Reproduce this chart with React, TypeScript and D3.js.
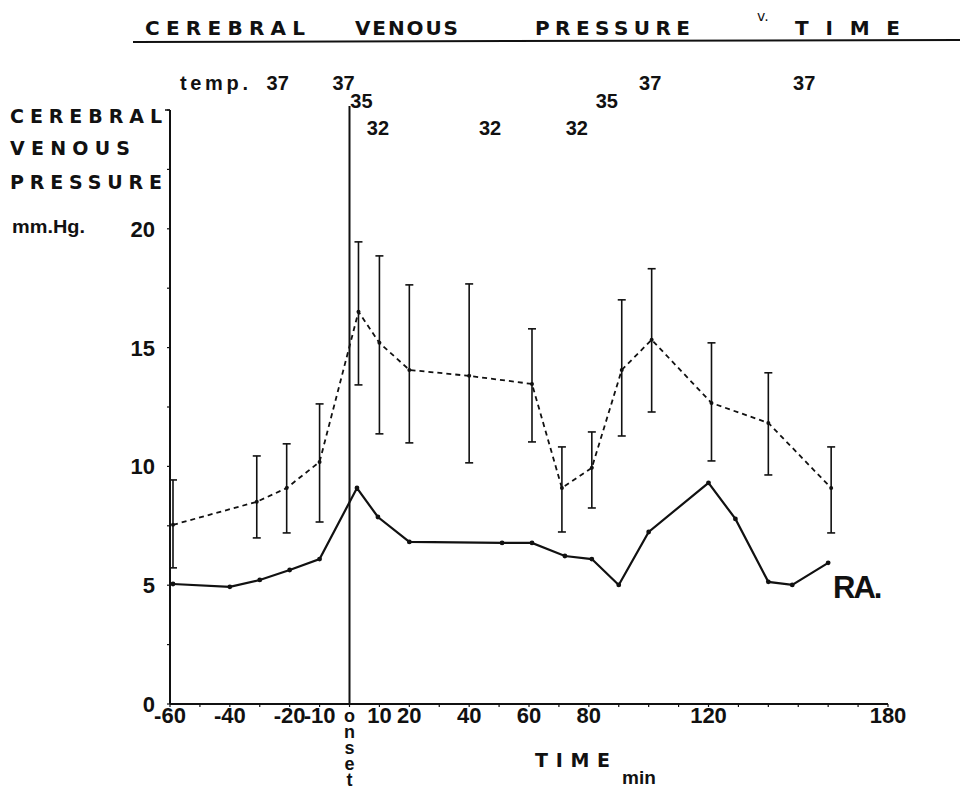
import React from 'react';
import * as d3 from 'd3';

// Cerebral venous pressure (dashed, mean ± error)
const cvpTime = [-59, -31, -21, -10, 3, 10, 20, 40, 61, 71, 81, 91, 101, 121, 140, 161];
const cvpMean = [7.54, 8.51, 9.09, 10.19, 16.51, 15.2, 14.06, 13.81, 13.47, 9.09, 9.94, 14.06, 15.33, 12.67, 11.83, 9.09];
const cvpUpper = [9.43, 10.44, 10.95, 12.63, 19.45, 18.86, 17.64, 17.68, 15.79, 10.82, 11.45, 17.01, 18.32, 15.2, 13.94, 10.82];
const cvpLower = [5.73, 6.99, 7.2, 7.66, 13.43, 11.37, 10.99, 10.15, 11.03, 7.24, 8.25, 11.28, 12.29, 10.23, 9.64, 7.2];

// Right atrial pressure (solid)
const raTime = [-59, -40, -30, -20, -10, 2.5, 9.5, 20, 51, 61, 72, 81, 90, 100, 120, 129, 140, 148, 160];
const raValue = [5.05, 4.93, 5.22, 5.64, 6.1, 9.09, 7.87, 6.82, 6.78, 6.78, 6.23, 6.1, 5.01, 7.24, 9.31, 7.79, 5.14, 5.01, 5.94];

const xTicks = [-60, -40, -20, -10, 0, 10, 20, 40, 60, 80, 120, 180];
const xTickLabels = ['-60', '-40', '-20', '-10', 'onset', '10', '20', '40', '60', '80', '120', '180'];
const yTicks = [0, 5, 10, 15, 20];

// Temperature annotations
const tempTime = [-24, -2, 4, 9.5, 47, 76, 86, 100.5, 152];
const tempValue = [37, 37, 35, 32, 32, 32, 35, 37, 37];

const FONT = "'Liberation Sans', Arial, sans-serif";
const WIDE = "'DejaVu Sans', 'Liberation Sans', sans-serif";

export default function App() {
  const xs = d3.scaleLinear().domain([-60, 180]).range([170, 888]);
  const ys = d3.scaleLinear().domain([0, 25]).range([704, 110]);
  const ty = d3.scaleLinear().domain([32, 37]).range([135, 90]);

  const cvpLine = d3.line<number>().x((_, i) => xs(cvpTime[i])).y((d) => ys(d));
  const raLine = d3.line<number>().x((_, i) => xs(raTime[i])).y((d) => ys(d));

  const minorX = d3.range(-60, 181, 10);
  const minorY = d3.range(0, 25.01, 2.5);

  return (
    <svg width={960} height={794} style={{ position: 'absolute', left: 0, top: 0, background: '#fff' }} fontFamily={FONT}>
      <rect x={0} y={0} width={960} height={794} fill="#fff" />
      {/* Title */}
      <g fill="#111" fontSize={20} fontWeight="bold" fontFamily={WIDE}>
        <text x={145} y={35} textLength={160} lengthAdjust="spacing">CEREBRAL</text>
        <text x={355} y={35} textLength={103} lengthAdjust="spacing">VENOUS</text>
        <text x={535} y={35} textLength={155} lengthAdjust="spacing">PRESSURE</text>
        <text x={757} y={21} fontSize={14} fontWeight="normal">v.</text>
        <text x={795} y={35} textLength={105} lengthAdjust="spacing">TIME</text>
      </g>
      <line x1={133} y1={42} x2={960} y2={40} stroke="#111" strokeWidth={2} />

      {/* Temperature annotations */}
      <text x={180} y={90} fontSize={20} fontWeight="bold" fill="#111" textLength={68} lengthAdjust="spacing">temp.</text>
      {tempTime.map((t, i) => (
        <text key={'t' + i} x={xs(t)} y={ty(tempValue[i])} fontSize={20} fontWeight="bold" textAnchor="middle" fill="#111">
          {tempValue[i]}
        </text>
      ))}

      {/* Y label */}
      <g fill="#111" fontSize={19} fontWeight="bold" fontFamily={WIDE}>
        <text x={10} y={123} textLength={152} lengthAdjust="spacing">CEREBRAL</text>
        <text x={10} y={155} textLength={120} lengthAdjust="spacing">VENOUS</text>
        <text x={10} y={189} textLength={152} lengthAdjust="spacing">PRESSURE</text>
      </g>
      <text x={12} y={233} fontSize={18} fontWeight="bold" fill="#111" textLength={73} lengthAdjust="spacingAndGlyphs">mm.Hg.</text>

      {/* Y axis */}
      <line x1={xs(-60)} y1={ys(0)} x2={xs(-60)} y2={ys(25)} stroke="#111" strokeWidth={2} />
      <line x1={xs(-60) - 5} y1={ys(25)} x2={xs(-60)} y2={ys(25)} stroke="#111" strokeWidth={1.5} />
      {minorY.map((v) => (
        <line key={'my' + v} x1={xs(-60) - 3} x2={xs(-60)} y1={ys(v)} y2={ys(v)} stroke="#111" strokeWidth={1.2} />
      ))}
      {yTicks.map((v) => (
        <text key={'yl' + v} x={155} y={ys(v) + 8} textAnchor="end" fontSize={22} fontWeight="bold" fill="#111">
          {v}
        </text>
      ))}

      {/* X axis */}
      <line x1={xs(-60)} y1={ys(0)} x2={xs(180)} y2={ys(0)} stroke="#111" strokeWidth={2.2} />
      {minorX.map((t) => (
        <line key={'mx' + t} x1={xs(t)} x2={xs(t)} y1={ys(0)} y2={ys(0) + 3} stroke="#111" strokeWidth={1.2} />
      ))}
      {xTicks.map((t, i) =>
        t === 0 ? (
          <text
            key={'xl' + t}
            x={xs(t)}
            y={706}
            fontSize={18}
            fontWeight="bold"
            fill="#111"
            style={{ writingMode: 'vertical-rl', textOrientation: 'upright', letterSpacing: '-4px' } as any}
          >
            {xTickLabels[i]}
          </text>
        ) : (
          <text key={'xl' + t} x={xs(t)} y={723} textAnchor="middle" fontSize={22} fontWeight="bold" fill="#111">
            {xTickLabels[i]}
          </text>
        )
      )}
      <text x={535} y={767} fontSize={19} fontWeight="bold" fill="#111" fontFamily={WIDE} textLength={75} lengthAdjust="spacing">TIME</text>
      <text x={622} y={784} fontSize={19} fontWeight="bold" fill="#111">min</text>

      {/* Onset line */}
      <line x1={xs(0)} y1={106} x2={xs(0)} y2={ys(0)} stroke="#111" strokeWidth={2} />

      {/* Error bars */}
      {cvpTime.map((t, i) => (
        <g key={'eb' + i} stroke="#111" strokeWidth={1.6}>
          <line x1={xs(t)} x2={xs(t)} y1={ys(cvpUpper[i])} y2={ys(cvpLower[i])} />
          <line x1={xs(t) - 4} x2={xs(t) + 4} y1={ys(cvpUpper[i])} y2={ys(cvpUpper[i])} />
          <line x1={xs(t) - 4} x2={xs(t) + 4} y1={ys(cvpLower[i])} y2={ys(cvpLower[i])} />
        </g>
      ))}

      {/* CVP dashed line */}
      <path d={cvpLine(cvpMean) || ''} fill="none" stroke="#111" strokeWidth={1.8} strokeDasharray="5,4" />
      {cvpTime.map((t, i) => (
        <circle key={'cd' + i} cx={xs(t)} cy={ys(cvpMean[i])} r={2} fill="#111" />
      ))}

      {/* RA solid line */}
      <path d={raLine(raValue) || ''} fill="none" stroke="#111" strokeWidth={2.2} />
      {raTime.map((t, i) => (
        <circle key={'rd' + i} cx={xs(t)} cy={ys(raValue[i])} r={2.4} fill="#111" />
      ))}
      <text x={833} y={598} fontSize={31} fontWeight="bold" fill="#111" letterSpacing={-2}>RA.</text>
    </svg>
  );
}
